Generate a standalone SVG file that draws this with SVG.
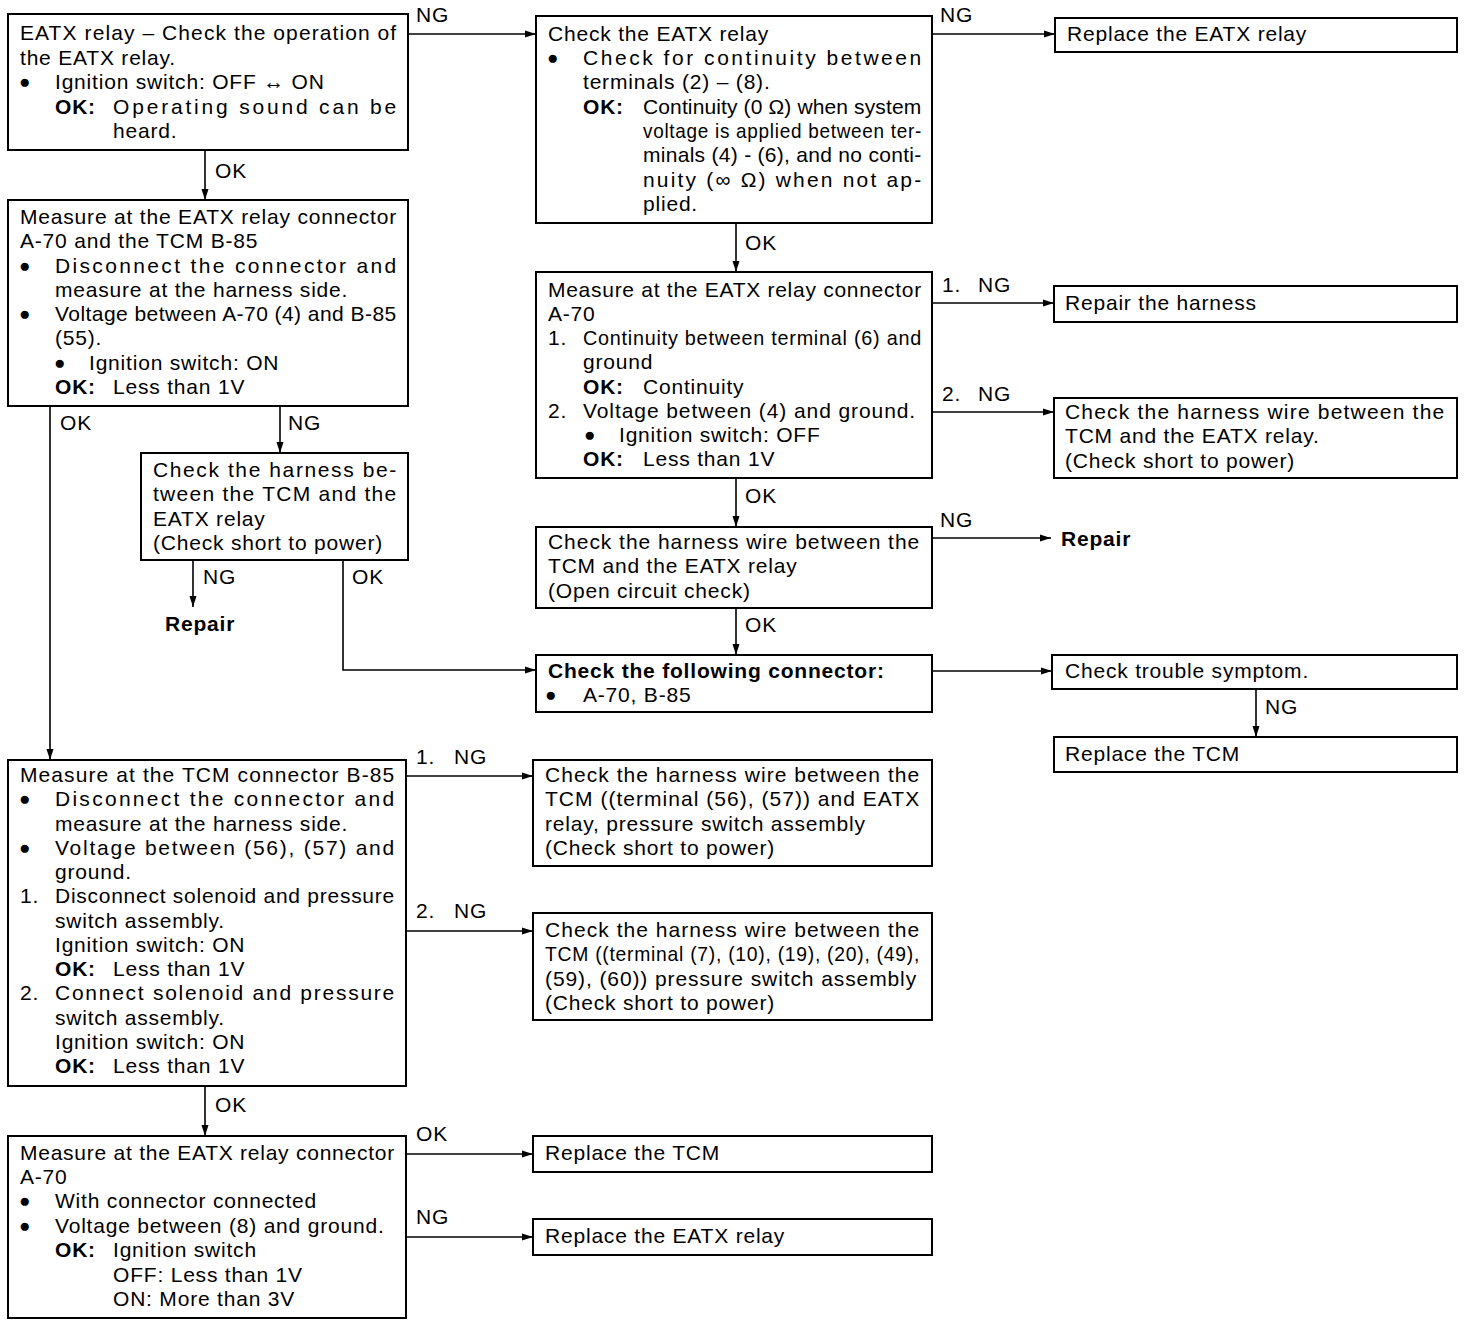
<svg xmlns="http://www.w3.org/2000/svg" width="1472" height="1326" viewBox="0 0 1472 1326">
<style>
text{font-family:"Liberation Sans",Arial,sans-serif;font-size:21px;letter-spacing:0.8px;fill:#000}
.b{font-weight:bold}
.bu{font-size:19px;letter-spacing:0}
.box{fill:#fff;stroke:#000;stroke-width:2}
.c{fill:none;stroke:#000;stroke-width:1.6}
</style>
<defs>
<marker id="ah" markerUnits="userSpaceOnUse" markerWidth="12" markerHeight="8" refX="11" refY="4" orient="auto">
<path d="M0,0.5 L11,4 L0,7.5 z" fill="#000"/>
</marker>
</defs>
<rect width="1472" height="1326" fill="#fff"/>

<g id="connectors">
<line class="c" x1="408" y1="34" x2="536" y2="34" marker-end="url(#ah)"/>
<line class="c" x1="932" y1="34" x2="1055" y2="34" marker-end="url(#ah)"/>
<line class="c" x1="205" y1="150" x2="205" y2="200" marker-end="url(#ah)"/>
<line class="c" x1="280" y1="406" x2="280" y2="453" marker-end="url(#ah)"/>
<line class="c" x1="50" y1="406" x2="50" y2="760" marker-end="url(#ah)"/>
<line class="c" x1="193" y1="560" x2="193" y2="607" marker-end="url(#ah)"/>
<polyline class="c" points="343,560 343,670 536,670" marker-end="url(#ah)"/>
<line class="c" x1="736" y1="223" x2="736" y2="272" marker-end="url(#ah)"/>
<line class="c" x1="932" y1="303" x2="1054" y2="303" marker-end="url(#ah)"/>
<line class="c" x1="932" y1="412" x2="1054" y2="412" marker-end="url(#ah)"/>
<line class="c" x1="736" y1="478" x2="736" y2="527" marker-end="url(#ah)"/>
<line class="c" x1="932" y1="538" x2="1051" y2="538" marker-end="url(#ah)"/>
<line class="c" x1="736" y1="608" x2="736" y2="655" marker-end="url(#ah)"/>
<line class="c" x1="932" y1="671" x2="1052" y2="671" marker-end="url(#ah)"/>
<line class="c" x1="1256" y1="689" x2="1256" y2="737" marker-end="url(#ah)"/>
<line class="c" x1="406" y1="776" x2="533" y2="776" marker-end="url(#ah)"/>
<line class="c" x1="406" y1="931" x2="533" y2="931" marker-end="url(#ah)"/>
<line class="c" x1="205" y1="1086" x2="205" y2="1136" marker-end="url(#ah)"/>
<line class="c" x1="406" y1="1154" x2="533" y2="1154" marker-end="url(#ah)"/>
<line class="c" x1="406" y1="1237" x2="533" y2="1237" marker-end="url(#ah)"/>
<text x="416" y="22">NG</text>
<text x="940" y="22">NG</text>
<text x="215" y="178">OK</text>
<text x="60" y="430">OK</text>
<text x="288" y="430">NG</text>
<text x="203" y="584">NG</text>
<text x="352" y="584">OK</text>
<text x="745" y="250">OK</text>
<text x="942" y="292">1.</text><text x="978" y="292">NG</text>
<text x="942" y="401">2.</text><text x="978" y="401">NG</text>
<text x="745" y="503">OK</text>
<text x="940" y="527">NG</text>
<text x="745" y="632">OK</text>
<text x="1265" y="714">NG</text>
<text x="416" y="764">1.</text><text x="454" y="764">NG</text>
<text x="416" y="918">2.</text><text x="454" y="918">NG</text>
<text x="215" y="1112">OK</text>
<text x="416" y="1141">OK</text>
<text x="416" y="1224">NG</text>
</g>

<g id="n1">
<rect class="box" x="8" y="14" width="400" height="136"/>
<text x="20" y="40" textLength="377" lengthAdjust="spacing">EATX relay – Check the operation of</text>
<text x="20" y="65">the EATX relay.</text>
<text class="bu" x="19" y="88">●</text><text x="55" y="89">Ignition switch: OFF ↔ ON</text>
<text class="b" x="55" y="114">OK:</text><text x="113" y="114" textLength="284" lengthAdjust="spacing">Operating sound can be</text>
<text x="113" y="138">heard.</text>
</g>

<g id="n2">
<rect class="box" x="8" y="200" width="400" height="206"/>
<text x="20" y="224" textLength="377" lengthAdjust="spacing">Measure at the EATX relay connector</text>
<text x="20" y="248">A-70 and the TCM B-85</text>
<text class="bu" x="19" y="272">●</text><text x="55" y="273" textLength="342" lengthAdjust="spacing">Disconnect the connector and</text>
<text x="55" y="297">measure at the harness side.</text>
<text class="bu" x="19" y="320">●</text><text x="55" y="321" textLength="342" lengthAdjust="spacing">Voltage between A-70 (4) and B-85</text>
<text x="55" y="345">(55).</text>
<text class="bu" x="54" y="369">●</text><text x="89" y="370">Ignition switch: ON</text>
<text class="b" x="55" y="394">OK:</text><text x="113" y="394">Less than 1V</text>
</g>

<g id="n3">
<rect class="box" x="141" y="453" width="267" height="107"/>
<text x="153" y="477" textLength="244" lengthAdjust="spacing">Check the harness be-</text>
<text x="153" y="501" textLength="244" lengthAdjust="spacing">tween the TCM and the</text>
<text x="153" y="526">EATX relay</text>
<text x="153" y="550">(Check short to power)</text>
</g>

<g id="n3-repair">
<text class="b" x="165" y="631">Repair</text>
</g>

<g id="n4">
<rect class="box" x="8" y="760" width="398" height="326"/>
<text x="20" y="782" textLength="375" lengthAdjust="spacing">Measure at the TCM connector B-85</text>
<text class="bu" x="19" y="805">●</text><text x="55" y="806" textLength="340" lengthAdjust="spacing">Disconnect the connector and</text>
<text x="55" y="831">measure at the harness side.</text>
<text class="bu" x="19" y="854">●</text><text x="55" y="855" textLength="340" lengthAdjust="spacing">Voltage between (56), (57) and</text>
<text x="55" y="879">ground.</text>
<text x="20" y="903">1.</text><text x="55" y="903" textLength="340" lengthAdjust="spacing">Disconnect solenoid and pressure</text>
<text x="55" y="928">switch assembly.</text>
<text x="55" y="952">Ignition switch: ON</text>
<text class="b" x="55" y="976">OK:</text><text x="113" y="976">Less than 1V</text>
<text x="20" y="1000">2.</text><text x="55" y="1000" textLength="340" lengthAdjust="spacing">Connect solenoid and pressure</text>
<text x="55" y="1025">switch assembly.</text>
<text x="55" y="1049">Ignition switch: ON</text>
<text class="b" x="55" y="1073">OK:</text><text x="113" y="1073">Less than 1V</text>
</g>

<g id="n5">
<rect class="box" x="8" y="1136" width="398" height="182"/>
<text x="20" y="1160" textLength="375" lengthAdjust="spacing">Measure at the EATX relay connector</text>
<text x="20" y="1184">A-70</text>
<text class="bu" x="19" y="1207">●</text><text x="55" y="1208">With connector connected</text>
<text class="bu" x="19" y="1232">●</text><text x="55" y="1233">Voltage between (8) and ground.</text>
<text class="b" x="55" y="1257">OK:</text><text x="113" y="1257">Ignition switch</text>
<text x="113" y="1282">OFF: Less than 1V</text>
<text x="113" y="1306">ON: More than 3V</text>
</g>

<g id="n6">
<rect class="box" x="536" y="16" width="396" height="207"/>
<text x="548" y="41">Check the EATX relay</text>
<text class="bu" x="547" y="64">●</text><text x="583" y="65" textLength="339" lengthAdjust="spacing">Check for continuity between</text>
<text x="583" y="89">terminals (2) – (8).</text>
<text class="b" x="583" y="114">OK:</text><text x="643" y="114" textLength="279" lengthAdjust="spacing">Continuity (0 Ω) when system</text>
<text x="643" y="138" textLength="279" lengthAdjust="spacingAndGlyphs">voltage is applied between ter-</text>
<text x="643" y="162" textLength="279" lengthAdjust="spacing">minals (4) - (6), and no conti-</text>
<text x="643" y="187" textLength="279" lengthAdjust="spacing">nuity (∞ Ω) when not ap-</text>
<text x="643" y="211">plied.</text>
</g>

<g id="n7">
<rect class="box" x="536" y="272" width="396" height="206"/>
<text x="548" y="297" textLength="374" lengthAdjust="spacing">Measure at the EATX relay connector</text>
<text x="548" y="321">A-70</text>
<text x="548" y="345">1.</text><text x="583" y="345" textLength="339" lengthAdjust="spacingAndGlyphs">Continuity between terminal (6) and</text>
<text x="583" y="369">ground</text>
<text class="b" x="583" y="394">OK:</text><text x="643" y="394">Continuity</text>
<text x="548" y="418">2.</text><text x="583" y="418" textLength="333" lengthAdjust="spacing">Voltage between (4) and ground.</text>
<text class="bu" x="584" y="441">●</text><text x="619" y="442">Ignition switch: OFF</text>
<text class="b" x="583" y="466">OK:</text><text x="643" y="466">Less than 1V</text>
</g>

<g id="n8">
<rect class="box" x="536" y="527" width="396" height="81"/>
<text x="548" y="549" textLength="372" lengthAdjust="spacing">Check the harness wire between the</text>
<text x="548" y="573">TCM and the EATX relay</text>
<text x="548" y="598">(Open circuit check)</text>
</g>

<g id="n9">
<rect class="box" x="536" y="655" width="396" height="57"/>
<text class="b" x="548" y="678">Check the following connector:</text>
<text class="bu" x="545" y="701">●</text><text x="583" y="702">A-70, B-85</text>
</g>

<g id="n10">
<rect class="box" x="533" y="760" width="399" height="106"/>
<text x="545" y="782" textLength="375" lengthAdjust="spacing">Check the harness wire between the</text>
<text x="545" y="806" textLength="375" lengthAdjust="spacing">TCM ((terminal (56), (57)) and EATX</text>
<text x="545" y="831">relay, pressure switch assembly</text>
<text x="545" y="855">(Check short to power)</text>
</g>

<g id="n11">
<rect class="box" x="533" y="913" width="399" height="107"/>
<text x="545" y="937" textLength="375" lengthAdjust="spacing">Check the harness wire between the</text>
<text x="545" y="961" textLength="375" lengthAdjust="spacingAndGlyphs">TCM ((terminal (7), (10), (19), (20), (49),</text>
<text x="545" y="986" textLength="372" lengthAdjust="spacing">(59), (60)) pressure switch assembly</text>
<text x="545" y="1010">(Check short to power)</text>
</g>

<g id="n12">
<rect class="box" x="533" y="1136" width="399" height="36"/>
<text x="545" y="1160">Replace the TCM</text>
</g>

<g id="n13">
<rect class="box" x="533" y="1219" width="399" height="36"/>
<text x="545" y="1243">Replace the EATX relay</text>
</g>

<g id="r1">
<rect class="box" x="1055" y="18" width="402" height="34"/>
<text x="1067" y="41">Replace the EATX relay</text>
</g>

<g id="r2">
<rect class="box" x="1054" y="286" width="403" height="36"/>
<text x="1065" y="310">Repair the harness</text>
</g>

<g id="r3">
<rect class="box" x="1054" y="398" width="403" height="80"/>
<text x="1065" y="419" textLength="380" lengthAdjust="spacing">Check the harness wire between the</text>
<text x="1065" y="443">TCM and the EATX relay.</text>
<text x="1065" y="468">(Check short to power)</text>
</g>

<g id="r-repair">
<text class="b" x="1061" y="546">Repair</text>
</g>

<g id="r4">
<rect class="box" x="1052" y="655" width="405" height="34"/>
<text x="1065" y="678">Check trouble symptom.</text>
</g>

<g id="r5">
<rect class="box" x="1054" y="737" width="403" height="35"/>
<text x="1065" y="761">Replace the TCM</text>
</g>
</svg>
